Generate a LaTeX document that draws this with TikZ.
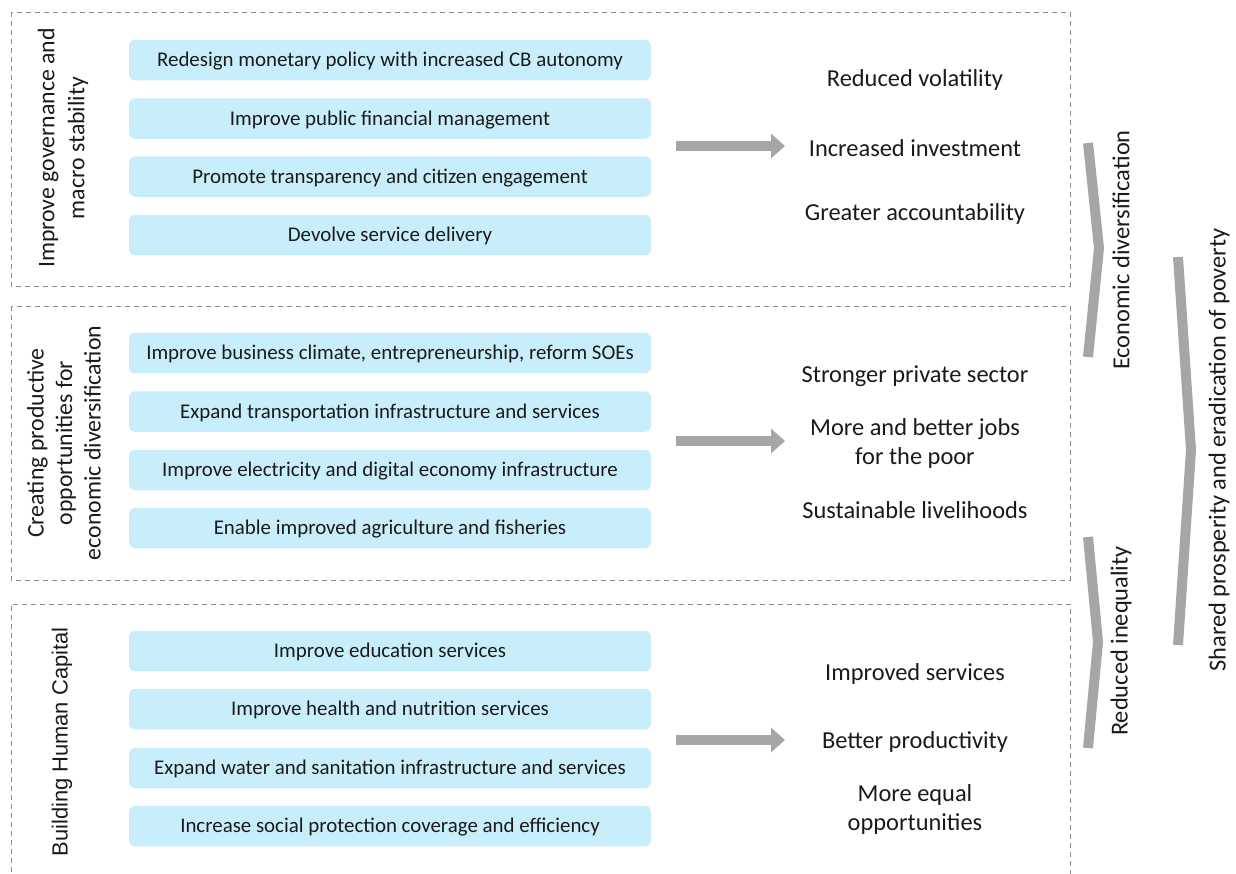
\documentclass[tikz,border=0pt]{standalone}
\usepackage{fontspec}
\setmainfont{Carlito}
\newfontfamily\arialf{Liberation Sans}
\usetikzlibrary{arrows.meta}
\definecolor{boxfill}{HTML}{C9EEFB}
\definecolor{chev}{HTML}{A6A6A6}
\definecolor{dashc}{HTML}{8C8C8C}
\definecolor{txt}{HTML}{1A1A1A}
\tikzset{
  panel/.style={draw=dashc, line width=0.9pt, dash pattern=on 5pt off 4pt},
  actbox/.style={fill=boxfill, rounded corners=6pt, minimum width=522pt, minimum height=40.5pt, inner sep=0pt, font=\fontsize{20.9}{24}\selectfont, text=txt, text depth=1.5pt},
  outc/.style={font=\fontsize{24.4}{29}\selectfont, align=center, text=txt, inner sep=0pt, yshift=-2pt},
  sidelbl/.style={rotate=90, font=\fontsize{24.4}{29.5}\selectfont, align=center, text=txt, inner sep=0pt},
  grarrow/.style={draw=chev, line width=10pt, -{Triangle[width=24pt,length=14pt]}},
  chevron/.style={draw=chev, line width=10pt, line join=miter, line cap=butt},
}
\begin{document}
\begin{tikzpicture}[x=1pt,y=-1pt]
\useasboundingbox (0,0) rectangle (1236,873);
% panels
\draw[panel] (11,12) rectangle (1070,286);
\draw[panel] (11,306) rectangle (1070,580);
\draw[panel] (11,890) -- (11,604) -- (1070,604) -- (1070,890);
% panel 1
\node[sidelbl, font=\fontsize{23.8}{30}\selectfont] (s1) at (63,148) {Improve governance and\\macro stability};
\node[actbox] (a11) at (390,60) {Redesign monetary policy with increased CB autonomy};
\node[actbox] (a12) at (390,118.5) {Improve public financial management};
\node[actbox] (a13) at (390,176.5) {Promote transparency and citizen engagement};
\node[actbox] (a14) at (390,235) {Devolve service delivery};
\coordinate (r1s) at (676,146);
\coordinate (r1e) at (785,146);
\draw[grarrow] (r1s) -- (r1e);
\node[outc] (o11) at (915,78) {Reduced volatility};
\node[outc] (o12) at (915,146) {Increased investment};
\node[outc] (o13) at (915,212) {Greater accountability};
% panel 2
\node[sidelbl, font=\fontsize{23.8}{28.5}\selectfont] (s2) at (64,443) {Creating productive\\opportunities for\\economic diversification};
\node[actbox] (a21) at (390,353) {Improve business climate, entrepreneurship, reform SOEs};
\node[actbox] (a22) at (390,411.5) {Expand transportation infrastructure and services};
\node[actbox] (a23) at (390,470) {Improve electricity and digital economy infrastructure};
\node[actbox] (a24) at (390,528) {Enable improved agriculture and fisheries};
\coordinate (r2s) at (676,441);
\coordinate (r2e) at (785,441);
\draw[grarrow] (r2s) -- (r2e);
\node[outc] (o21) at (915,374) {Stronger private sector};
\node[outc] (o22) at (915,441.5) {More and better jobs\\for the poor};
\node[outc] (o23) at (915,508) {Sustainable livelihoods};
% panel 3
\node[sidelbl, font=\arialf\fontsize{21.9}{26}\selectfont] (s3) at (62,742) {Building Human Capital};
\node[actbox] (a31) at (390,651) {Improve education services};
\node[actbox] (a32) at (390,709) {Improve health and nutrition services};
\node[actbox] (a33) at (390,768) {Expand water and sanitation infrastructure and services};
\node[actbox] (a34) at (390,826) {Increase social protection coverage and efficiency};
\coordinate (r3s) at (676,740);
\coordinate (r3e) at (785,740);
\draw[grarrow] (r3s) -- (r3e);
\node[outc] (o31) at (915,672) {Improved services};
\node[outc] (o32) at (915,740) {Better productivity};
\node[outc] (o33) at (915,807.5) {More equal\\opportunities};
% chevrons
\draw[chevron] (1088,143) -- (1099,248) -- (1088,357);
\node[sidelbl] (c1) at (1121,250) {Economic diversification};
\draw[chevron] (1088,537) -- (1098,642) -- (1088,748);
\node[sidelbl] (c2) at (1121,641) {Reduced inequality};
\draw[chevron] (1178,257) -- (1191,450) -- (1178,645);
\node[sidelbl] (c3) at (1219,450) {Shared prosperity and eradication of poverty};
\end{tikzpicture}
\end{document}
